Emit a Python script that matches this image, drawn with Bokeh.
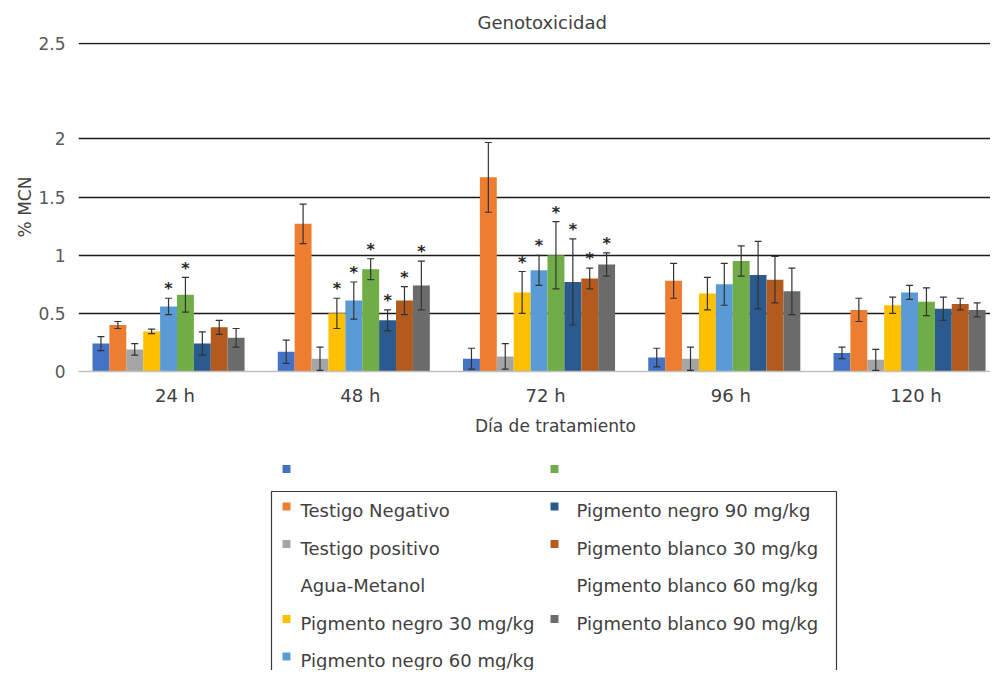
from bokeh.plotting import figure
from bokeh.models import Range1d, FixedTicker, ColumnDataSource, Whisker, TeeHead
from bokeh.layouts import column
from bokeh.embed import file_html
from bokeh.resources import INLINE
from bokeh.core.properties import value

# ---------------- data ----------------
categories = ["24 h", "48 h", "72 h", "96 h", "120 h"]

series_colors = ["#4472C4", "#ED7D31", "#A5A5A5", "#FFC000", "#5B9BD5",
                 "#70AD47", "#2A5A8E", "#B35A1F", "#6B6B6B"]

s_blue   = [0.24, 0.17, 0.11, 0.12, 0.16]
s_orange = [0.40, 1.27, 1.67, 0.78, 0.53]
s_gray   = [0.19, 0.11, 0.13, 0.11, 0.10]
s_yellow = [0.345, 0.50, 0.68, 0.67, 0.57]
s_ltblue = [0.56, 0.61, 0.87, 0.75, 0.68]
s_green  = [0.66, 0.88, 1.00, 0.95, 0.60]
s_dkblue = [0.24, 0.44, 0.77, 0.83, 0.54]
s_brown  = [0.38, 0.61, 0.80, 0.79, 0.58]
s_dkgray = [0.29, 0.74, 0.92, 0.69, 0.53]

e_blue   = [0.06, 0.10, 0.09, 0.08, 0.05]
e_orange = [0.03, 0.17, 0.30, 0.15, 0.10]
e_gray   = [0.05, 0.10, 0.11, 0.10, 0.09]
e_yellow = [0.02, 0.13, 0.18, 0.14, 0.07]
e_ltblue = [0.07, 0.16, 0.13, 0.18, 0.06]
e_green  = [0.15, 0.09, 0.29, 0.13, 0.12]
e_dkblue = [0.10, 0.09, 0.37, 0.29, 0.10]
e_brown  = [0.06, 0.12, 0.09, 0.20, 0.05]
e_dkgray = [0.08, 0.21, 0.10, 0.20, 0.06]

# significance marks (1 = asterisk)
k_blue   = [0, 0, 0, 0, 0]
k_orange = [0, 0, 0, 0, 0]
k_gray   = [0, 0, 0, 0, 0]
k_yellow = [0, 1, 1, 0, 0]
k_ltblue = [1, 1, 1, 0, 0]
k_green  = [1, 1, 1, 0, 0]
k_dkblue = [0, 1, 1, 0, 0]
k_brown  = [0, 1, 1, 0, 0]
k_dkgray = [0, 1, 1, 0, 0]

y_ticks = [0, 0.5, 1, 1.5, 2, 2.82]
y_tick_labels = ["0", "0.5", "1", "1.5", "2", "2.5"]

title_text = "Genotoxicidad"
x_title = "Día de tratamiento"
y_title = "% MCN"

legend_labels = ["", "Testigo Negativo", "Testigo positivo", "Agua-Metanol",
                 "Pigmento negro 30 mg/kg", "Pigmento negro 60 mg/kg",
                 "", "Pigmento negro 90 mg/kg", "Pigmento blanco 30 mg/kg",
                 "Pigmento blanco 60 mg/kg", "Pigmento blanco 90 mg/kg"]
legend_swatch = [0, 1, 2, None, 3, 4, 5, 6, 7, None, 8]
legend_col = [0, 0, 0, 0, 0, 0, 1, 1, 1, 1, 1]
legend_row = [-1, 0, 1, 2, 3, 4, -1, 0, 1, 2, 3]

values = [s_blue, s_orange, s_gray, s_yellow, s_ltblue, s_green, s_dkblue, s_brown, s_dkgray]
errors = [e_blue, e_orange, e_gray, e_yellow, e_ltblue, e_green, e_dkblue, e_brown, e_dkgray]
marks = [k_blue, k_orange, k_gray, k_yellow, k_ltblue, k_green, k_dkblue, k_brown, k_dkgray]

FONT = "DejaVu Sans"
n_series = len(values)
bar_w = 0.0912
star_gap = 0.08
tick_shift = 0.035

xs, tops, ups, los, cols = [], [], [], [], []
sx, sy = [], []
for k in range(n_series):
    for d in range(len(categories)):
        x = d + (k - (n_series - 1) / 2) * bar_w
        v = values[k][d]
        e = errors[k][d]
        xs.append(x); tops.append(v); ups.append(v + e); los.append(v - e)
        cols.append(series_colors[k])
        if marks[k][d]:
            sx.append(x); sy.append(v + e + star_gap)

src = ColumnDataSource(dict(x=xs, top=tops, upper=ups, lower=los, color=cols))
star_src = ColumnDataSource(dict(x=sx, y=sy, t=["*"] * len(sx)))

# ---------------- main chart ----------------
W = 990
MAIN_H = 410
LEFT = 78
p = figure(width=W, height=MAIN_H, x_range=Range1d(-0.486, 4.437),
           y_range=Range1d(0, 2.83), toolbar_location=None,
           output_backend="svg", min_border_left=LEFT, min_border_right=0,
           min_border_top=41, min_border_bottom=39)
p.outline_line_color = None
p.background_fill_color = "white"

p.title.text = title_text
p.title.align = "left"
p.title.offset = 399
p.title.standoff = 19
p.title.text_font = FONT
p.title.text_font_size = "18px"
p.title.text_font_style = "normal"
p.title.text_color = "#404040"

p.vbar(x="x", top="top", width=bar_w, source=src, fill_color="color", line_color=None)

wh = Whisker(source=src, base="x", upper="upper", lower="lower",
             line_color="#333333", line_width=1.2, level="overlay",
             upper_head=TeeHead(size=7, line_color="#333333", line_width=1.2),
             lower_head=TeeHead(size=7, line_color="#333333", line_width=1.2))
p.add_layout(wh)

p.text(x="x", y="y", text="t", source=star_src, text_align="center",
       text_baseline="middle", text_font=value(FONT),
       text_font_size="16px", text_font_style="bold", text_color="#262626")

p.xgrid.visible = False
p.ygrid.ticker = FixedTicker(ticks=y_ticks[1:])
p.ygrid.grid_line_color = "#1a1a1a"
p.ygrid.grid_line_width = 1.5

p.yaxis.ticker = FixedTicker(ticks=y_ticks, minor_ticks=[])
p.yaxis.major_label_overrides = {t: l for t, l in zip(y_ticks, y_tick_labels)}
p.yaxis.axis_line_color = None
p.yaxis.major_tick_line_color = None
p.yaxis.minor_tick_line_color = None
p.yaxis.major_label_standoff = 7
p.yaxis.major_label_text_font = FONT
p.yaxis.major_label_text_font_size = "17px"
p.yaxis.major_label_text_color = "#595959"
p.yaxis.axis_label = y_title
p.yaxis.axis_label_text_font = FONT
p.yaxis.axis_label_text_font_size = "17px"
p.yaxis.axis_label_text_font_style = "normal"
p.yaxis.axis_label_text_color = "#404040"
p.yaxis.axis_label_standoff = 0

x_ticks = [i + tick_shift for i in range(len(categories))]
p.xaxis.ticker = FixedTicker(ticks=x_ticks, minor_ticks=[])
p.xaxis.major_label_overrides = {t: c for t, c in zip(x_ticks, categories)}
p.xaxis.axis_line_color = "#BFBFBF"
p.xaxis.axis_line_width = 1.5
p.xaxis.major_tick_line_color = None
p.xaxis.minor_tick_line_color = None
p.xaxis.major_label_standoff = 7
p.xaxis.major_label_text_font = FONT
p.xaxis.major_label_text_font_size = "18px"
p.xaxis.major_label_text_color = "#404040"

# ---------------- lower panel: x title + legend (page-pixel coordinates) ----------------
LH = 260
page_x0 = 80          # frame left on the page
page_x1 = page_x0 + (W - LEFT)
lg = figure(width=W, height=LH, x_range=Range1d(page_x0, page_x1),
            y_range=Range1d(MAIN_H + LH, MAIN_H),
            x_axis_type=None, y_axis_type=None, toolbar_location=None,
            output_backend="svg", min_border=0, min_border_left=LEFT, min_border_right=0)
lg.outline_line_color = None
lg.grid.visible = False

lg.text(x=[557], y=[425], text=[x_title], text_align="center", text_baseline="middle",
        text_font=value(FONT), text_font_size="17px", text_color="#404040")

lg.quad(left=273, right=838, top=491, bottom=MAIN_H + LH + 40, fill_color=None,
        line_color="#3a3a3a", line_width=1.2)

col_sw_x = [288, 556]
col_tx_x = [302, 578]
row0_y = 510
row_h = 37.5

sw_x, sw_y, sw_c, tx_x, tx_y, tx_t = [], [], [], [], [], []
for lab, sw, c, r in zip(legend_labels, legend_swatch, legend_col, legend_row):
    y = row0_y + r * row_h
    if sw is not None:
        sw_x.append(col_sw_x[c]); sw_y.append(y - 4); sw_c.append(series_colors[sw])
    if lab:
        tx_x.append(col_tx_x[c]); tx_y.append(y); tx_t.append(lab)

lg.rect(x=sw_x, y=sw_y, width=8, height=8, fill_color=sw_c, line_color=None)
lg.text(x=tx_x, y=tx_y, text=tx_t, text_align="left", text_baseline="middle",
        text_font=value(FONT), text_font_size="18px", text_color="#404040")

layout = column(p, lg)
open("out.html", "w").write(file_html(layout, INLINE))
